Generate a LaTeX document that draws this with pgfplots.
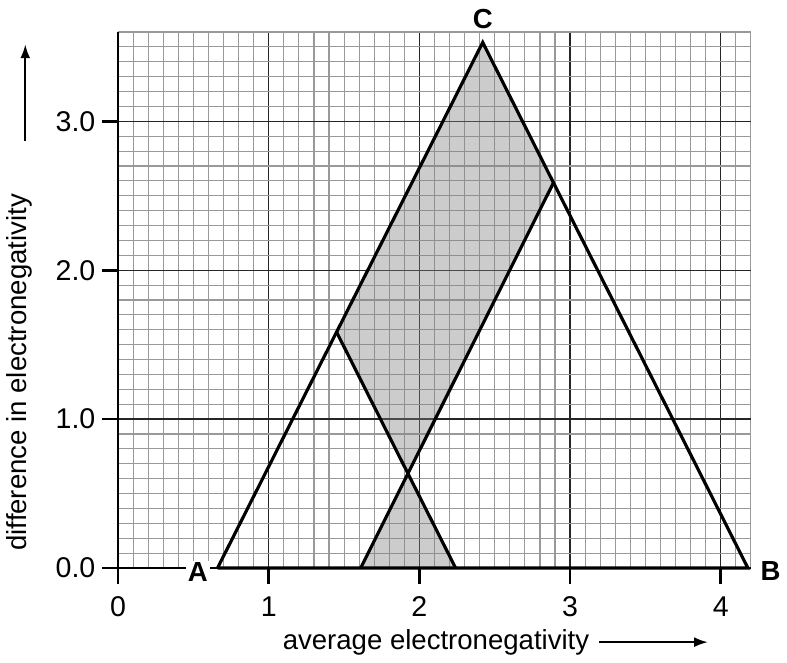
\documentclass[border=0pt]{standalone}
\usepackage{fontspec}
\setmainfont{Liberation Sans}
\usepackage{pgfplots}
\pgfplotsset{compat=1.18}
\usetikzlibrary{arrows.meta}
\begin{document}
\begin{tikzpicture}[font=\fontsize{14}{16}\selectfont]
\begin{axis}[
  x=76.25bp, y=75.35bp,
  xmin=0, xmax=4.2, ymin=0, ymax=3.6,
  axis lines=left,
  axis line style={-, line width=1.3bp, black},
  clip=false,
  xtick={0,1,2,3,4},
  ytick={0,1,2,3},
  minor xtick={0,0.1,...,4.25},
  minor ytick={0,0.1,...,3.65},
  /pgf/number format/assume math mode=true,
  tick label style={font=\fontsize{14.5}{16}\selectfont},
  yticklabel style={/pgf/number format/.cd, fixed, fixed zerofill, precision=1},
  xticklabel style={/pgf/number format/.cd, fixed, precision=0},
  xticklabel shift=3bp,
  tick align=outside,
  major tick length=8bp,
  minor tick length=0pt,
  major tick style={line width=1.3bp, black},
  grid=both,
  minor grid style={line width=0.55bp, gray!80},
  major grid style={line width=0.7bp, black!85},
]
% shaded region
\addplot[draw=none, fill=gray, fill opacity=0.4] coordinates {(1.45,1.585) (2.42,3.53) (2.89,2.588) (1.925,0.64)} -- cycle;
\addplot[draw=none, fill=gray, fill opacity=0.4] coordinates {(1.925,0.64) (2.24,0) (1.61,0)} -- cycle;
% triangle
\addplot[black, line width=1.6bp, line join=miter] coordinates {(0.66,0) (2.42,3.53) (4.18,0) (0.66,0)};
% inner lines
\addplot[black, line width=1.6bp] coordinates {(1.45,1.585) (2.24,0)};
\addplot[black, line width=1.6bp] coordinates {(1.61,0) (2.89,2.588)};
% vertex labels
\node[font=\fontsize{14}{16}\selectfont\bfseries, fill=white, inner sep=1bp] at (axis cs:0.53,-0.03) {A};
\node[font=\fontsize{14}{16}\selectfont\bfseries] at (axis cs:4.33,-0.02) {B};
\node[font=\fontsize{14}{16}\selectfont\bfseries] at (axis cs:2.42,3.69) {C};
% axis titles with arrows
\node[rotate=90] at (axis cs:-0.655,1.314) {difference in electronegativity};
\draw[line width=1bp, -{Latex[length=7bp,width=5bp]}] (axis cs:-0.616,2.867) -- (axis cs:-0.616,3.517);
\node at (axis cs:2.11,-0.498) {average electronegativity};
\draw[line width=1bp, -{Latex[length=7bp,width=5bp]}] (axis cs:3.193,-0.498) -- (axis cs:3.915,-0.498);
\coordinate (bl) at (axis cs:-0.761,-0.637);
\coordinate (tr) at (axis cs:4.40,3.815);
\end{axis}
\useasboundingbox (bl) rectangle (tr);
\end{tikzpicture}
\end{document}
